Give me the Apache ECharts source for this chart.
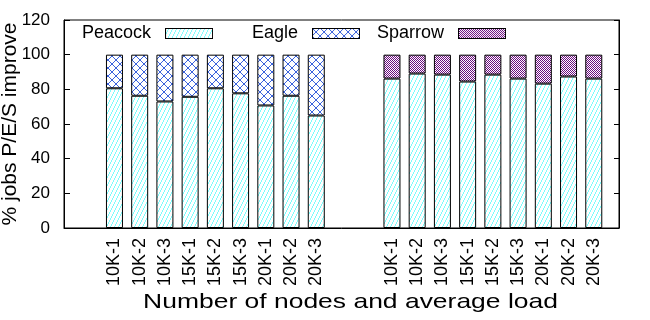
<!DOCTYPE html>
<html><head><meta charset="utf-8">
<script src="https://cdn.jsdelivr.net/npm/echarts@6/dist/echarts.min.js"></script>
<style>html,body{margin:0;padding:0;background:#fff}#c{width:650px;height:320px}</style>
</head><body><div id="c"></div>
<script>
// ---- data ----
const loadLabels = ['10K-1','10K-2','10K-3','15K-1','15K-2','15K-3','20K-1','20K-2','20K-3'];
const peacockVsEagle   = [80.6, 76.3, 73.0, 75.7, 80.6, 77.7, 70.7, 76.3, 64.9];
const eagle            = [19.4, 23.7, 27.0, 24.3, 19.4, 22.3, 29.3, 23.7, 35.1];
const peacockVsSparrow = [86.2, 89.1, 88.5, 84.5, 88.5, 86.2, 83.3, 87.4, 86.2];
const sparrow          = [13.8, 10.9, 11.5, 15.5, 11.5, 13.8, 16.7, 12.6, 13.8];
const seriesNames = ['Peacock', 'Eagle', 'Sparrow'];
const yMin = 0, yMax = 120, yStep = 20;
const xTitle = 'Number of nodes and average load';
const yTitle = '% jobs P/E/S improve';

// ---- build category axis: 2 blank slots, group 1, 2 blank slots, group 2, 1 blank slot ----
const blank = n => Array(n).fill('');
const nulls = n => Array(n).fill(null);
const categories = [...blank(2), ...loadLabels, ...blank(2), ...loadLabels, ...blank(1)];
const peacockData = [...nulls(2), ...peacockVsEagle, ...nulls(2), ...peacockVsSparrow, ...nulls(1)];
const eagleData   = [...nulls(2), ...eagle, ...nulls(2), ...nulls(loadLabels.length), ...nulls(1)];
const sparrowData = [...nulls(2), ...nulls(loadLabels.length), ...nulls(2), ...sparrow, ...nulls(1)];

// ---- fill patterns ----
function tile(w, h, color, pixels) {
  const c = document.createElement('canvas'); c.width = w; c.height = h;
  const g = c.getContext('2d');
  g.fillStyle = '#fff'; g.fillRect(0, 0, w, h);
  g.fillStyle = color;
  pixels.forEach(([x, y]) => g.fillRect(x, y, 1, 1));
  return c;
}
const pk = []; for (let y = 0; y < 8; y++) { const x = (7 - y) >> 1; pk.push([x, y], [x + 4, y]); }
const eg = []; for (let i = 0; i < 8; i++) { eg.push([i, i], [7 - i, i]); }
const sp = []; for (let y = 0; y < 8; y++) for (let x = 0; x < 8; x++) if ((x + y) % 2 === 0) sp.push([x, y]);
const tiles = {
  Peacock: tile(8, 8, '#7ffcfc', pk),
  Eagle: tile(8, 8, '#3a62dc', eg),
  Sparrow: tile(8, 8, '#6a0a7e', sp)
};
const fill = name => ({ image: tiles[name], repeat: 'repeat' });
// legend swatch image (pattern with a black outline)
function swatch(name, w, h) {
  const c = document.createElement('canvas'); c.width = w; c.height = h;
  const g = c.getContext('2d');
  g.fillStyle = g.createPattern(tiles[name], 'repeat'); g.fillRect(0, 0, w, h);
  g.strokeStyle = '#000'; g.lineWidth = 1; g.strokeRect(0.5, 0.5, w - 1, h - 1);
  return 'image://' + c.toDataURL('image/png');
}

const FONT = '"Liberation Sans", Arial, sans-serif';
const chart = echarts.init(document.getElementById('c'), null, { renderer: 'canvas' });

const mkLegend = (name, left) => ({
  data: [{ name, icon: swatch(name, 48, 11) }], left, orient: 'horizontal', top: 23, padding: 0, align: 'right',
  itemWidth: 48, itemHeight: 11, selectedMode: false,
  textStyle: { fontSize: 18, lineHeight: 18, color: '#000', fontFamily: FONT, padding: [0, 9, 3, 0] }
});

const mkSeries = (name, data) => ({
  name, type: 'bar', stack: 'all', data, barWidth: 17,
  itemStyle: { color: fill(name), borderColor: '#000', borderWidth: 1 },
  emphasis: { disabled: true }, animation: false
});

chart.setOption({
  animation: false,
  backgroundColor: '#fff',
  grid: { left: 64, right: 31, top: 20, bottom: 92, show: true, borderColor: '#000', borderWidth: 1,
          backgroundColor: 'transparent', containLabel: false, outerBoundsMode: 'none' },
  legend: [
    mkLegend(seriesNames[0], 82),
    mkLegend(seriesNames[1], 252),
    mkLegend(seriesNames[2], 377)
  ],
  xAxis: {
    type: 'category', data: categories, boundaryGap: false,
    axisLine: { lineStyle: { color: '#000', width: 1 } },
    axisTick: { show: false },
    splitLine: { show: false },
    axisLabel: { interval: 0, rotate: 90, margin: 10, fontSize: 18, color: '#000', fontFamily: FONT, padding: [0, 0, 8, 0] }
  },
  yAxis: [
    {
      type: 'value', min: yMin, max: yMax, interval: yStep, position: 'left',
      name: yTitle, nameLocation: 'middle', nameGap: 43, nameMoveOverlap: false,
      nameTextStyle: { fontSize: 21, color: '#000', fontFamily: FONT },
      axisLine: { show: true, lineStyle: { color: '#000' } },
      axisTick: { show: true, inside: true, length: 6, lineStyle: { color: '#000' } },
      splitLine: { show: false },
      axisLabel: { fontSize: 17, color: '#000', margin: 14, fontFamily: FONT }
    },
    {
      type: 'value', min: yMin, max: yMax, interval: yStep, position: 'right',
      axisLine: { show: true, lineStyle: { color: '#000' } },
      axisTick: { show: true, inside: true, length: 5, lineStyle: { color: '#000' } },
      splitLine: { show: false },
      axisLabel: { show: false }
    }
  ],
  graphic: [{
    type: 'text', x: 350.5, y: 302, scaleX: 1.26, silent: true,
    style: { text: xTitle, font: '21px ' + FONT, fill: '#000', align: 'center', verticalAlign: 'middle' }
  }],
  series: [
    mkSeries('Peacock', peacockData),
    mkSeries('Eagle', eagleData),
    mkSeries('Sparrow', sparrowData)
  ]
});
</script>
</body></html>
